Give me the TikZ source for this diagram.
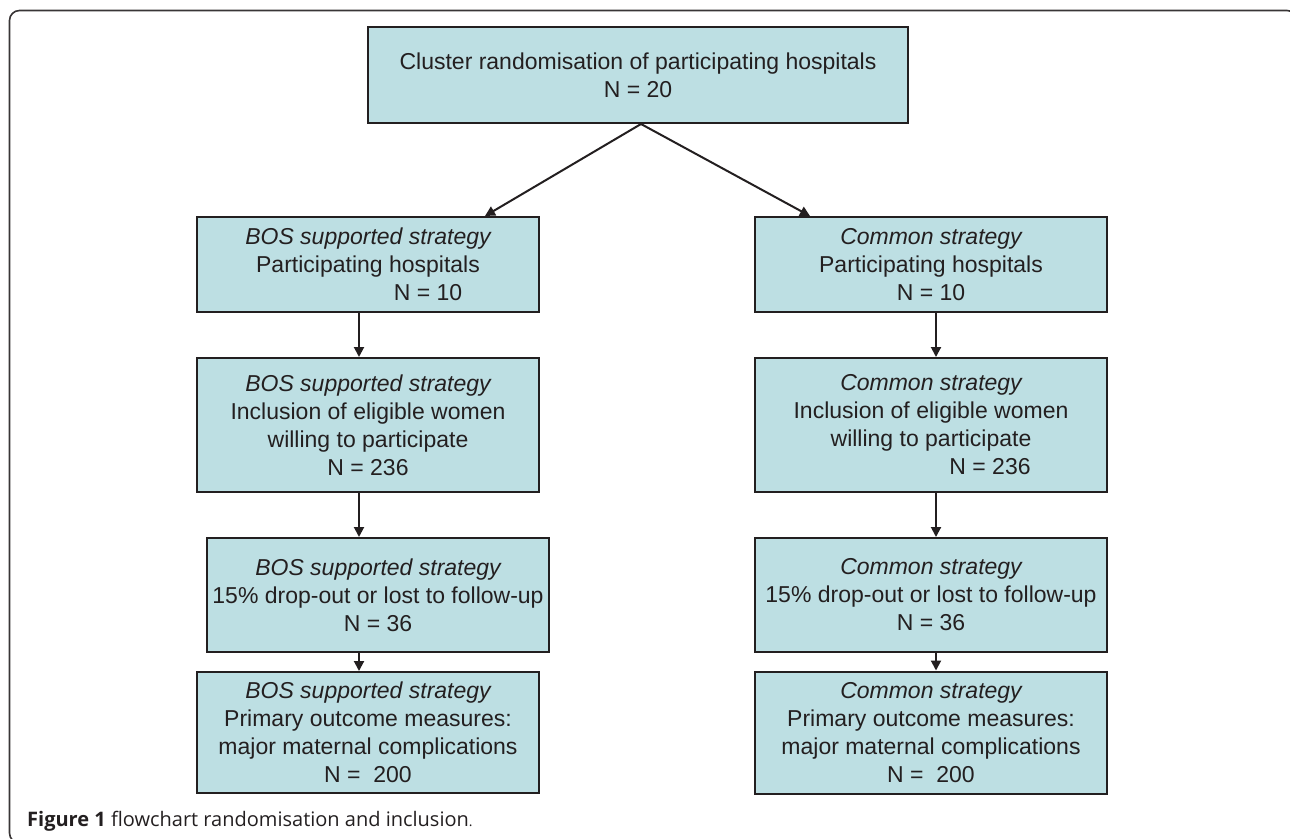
\documentclass[tikz,border=0pt]{standalone}
\usepackage{fontspec}
\setmainfont{Liberation Sans}
\newfontfamily\capfont[Ligatures=NoCommon]{Open Sans}
\usetikzlibrary{arrows.meta,calc}
\definecolor{boxfill}{RGB}{189,223,227}
\definecolor{ink}{RGB}{35,31,32}
\begin{document}
\begin{tikzpicture}[x=1pt,y=-1pt,
  box/.style={draw=ink,fill=boxfill,line width=2pt,inner sep=0pt,align=center,
    text=ink,font=\fontsize{23}{28}\selectfont},
  conn/.style={draw=ink,line width=2pt,-{Triangle[length=10pt,width=10pt]}},
  frame/.style={draw=ink!90,line width=1.6pt,rounded corners=10pt}]
\useasboundingbox (0,0) rectangle (1290,838);
\draw[frame] (9.5,10.5) rectangle (1297,843);
\node[box,minimum width=540pt,minimum height=96pt] (top) at (638,75)
  {Cluster randomisation of participating hospitals\\N = 20};
\node[box,minimum width=342pt,minimum height=95pt] (l2) at (368,264.5)
  {\itshape BOS supported strategy\\Participating hospitals\\\hspace*{120pt}N = 10};
\node[box,minimum width=352pt,minimum height=95pt] (r2) at (931,264.5)
  {\itshape Common strategy\\Participating hospitals\\N = 10};
\node[box,minimum width=342pt,minimum height=134pt] (l3) at (368,425)
  {\itshape BOS supported strategy\\Inclusion of eligible women\\willing to participate\\N = 236};
\node[box,minimum width=352pt,minimum height=134pt] (r3) at (931,425)
  {\itshape Common strategy\\Inclusion of eligible women\\willing to participate\\\hspace*{118pt}N = 236};
\node[box,minimum width=342pt,minimum height=114pt] (l4) at (378,595)
  {\itshape BOS supported strategy\\15\% drop-out or lost to follow-up\\N = 36};
\node[box,minimum width=352pt,minimum height=114pt] (r4) at (931,595)
  {\itshape Common strategy\\15\% drop-out or lost to follow-up\\N = 36};
\node[box,minimum width=342pt,minimum height=121pt] (l5) at (368,732.5)
  {\itshape BOS supported strategy\\Primary outcome measures:\\major maternal complications\\N =\ \ 200};
\node[box,minimum width=352pt,minimum height=122pt] (r5) at (931,732.5)
  {\itshape Common strategy\\Primary outcome measures:\\major maternal complications\\N =\ \ 200};
\coordinate (xL) at (359,0);
\coordinate (xR) at (936,0);
\draw[conn] ([xshift=3pt]top.south) -- ([xshift=117pt]l2.north);
\draw[conn] ([xshift=3pt]top.south) -- ([xshift=-121pt]r2.north);
\draw[conn] (l2.south -| xL) -- (l3.north -| xL);
\draw[conn] (l3.south -| xL) -- (l4.north -| xL);
\draw[conn] (l4.south -| xL) -- (l5.north -| xL);
\draw[conn] (r2.south -| xR) -- (r3.north -| xR);
\draw[conn] (r3.south -| xR) -- (r4.north -| xR);
\draw[conn] (r4.south -| xR) -- (r5.north -| xR);
\node[anchor=base west,inner sep=0pt,text=ink,font=\capfont\fontsize{20}{22}\selectfont] (cap) at (27,826)
  {\bfseries Figure 1 \mdseries flowchart randomisation and inclusion{\fontsize{14}{16}\selectfont.}};
\end{tikzpicture}
\end{document}
